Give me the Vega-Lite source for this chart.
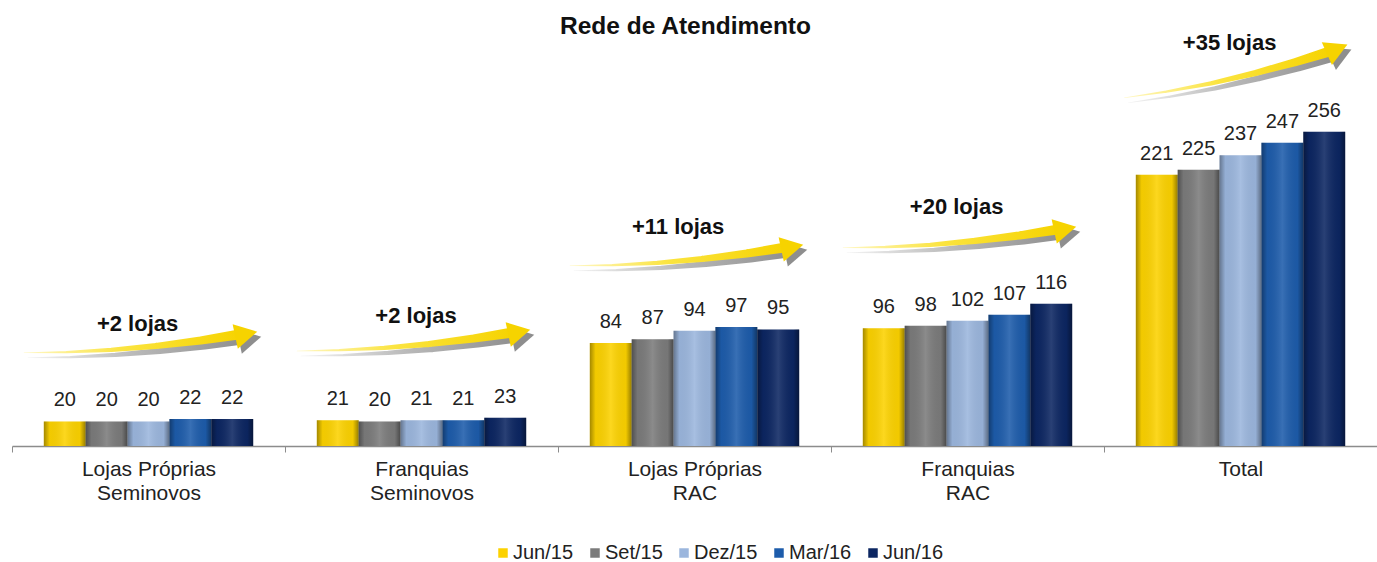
{
  "$schema": "https://vega.github.io/schema/vega-lite/v6.json",
  "width": 1365,
  "height": 405,
  "autosize": {"type": "none"},
  "padding": {"left": 12, "top": 41, "right": 0, "bottom": 116},
  "background": "white",
  "config": {"view": {"stroke": null}, "font": "Liberation Sans"},
  "title": {
    "text": "Rede de Atendimento",
    "fontSize": 24.5,
    "fontWeight": "bold",
    "font": "Liberation Sans",
    "color": "#111111",
    "anchor": "middle",
    "dx": -9,
    "offset": -7
  },
  "datasets": {
    "bars": [
      {"cat": "Lojas Próprias|Seminovos", "serie": "Jun/15", "value": 20},
      {"cat": "Lojas Próprias|Seminovos", "serie": "Set/15", "value": 20},
      {"cat": "Lojas Próprias|Seminovos", "serie": "Dez/15", "value": 20},
      {"cat": "Lojas Próprias|Seminovos", "serie": "Mar/16", "value": 22},
      {"cat": "Lojas Próprias|Seminovos", "serie": "Jun/16", "value": 22},
      {"cat": "Franquias|Seminovos", "serie": "Jun/15", "value": 21},
      {"cat": "Franquias|Seminovos", "serie": "Set/15", "value": 20},
      {"cat": "Franquias|Seminovos", "serie": "Dez/15", "value": 21},
      {"cat": "Franquias|Seminovos", "serie": "Mar/16", "value": 21},
      {"cat": "Franquias|Seminovos", "serie": "Jun/16", "value": 23},
      {"cat": "Lojas Próprias|RAC", "serie": "Jun/15", "value": 84},
      {"cat": "Lojas Próprias|RAC", "serie": "Set/15", "value": 87},
      {"cat": "Lojas Próprias|RAC", "serie": "Dez/15", "value": 94},
      {"cat": "Lojas Próprias|RAC", "serie": "Mar/16", "value": 97},
      {"cat": "Lojas Próprias|RAC", "serie": "Jun/16", "value": 95},
      {"cat": "Franquias|RAC", "serie": "Jun/15", "value": 96},
      {"cat": "Franquias|RAC", "serie": "Set/15", "value": 98},
      {"cat": "Franquias|RAC", "serie": "Dez/15", "value": 102},
      {"cat": "Franquias|RAC", "serie": "Mar/16", "value": 107},
      {"cat": "Franquias|RAC", "serie": "Jun/16", "value": 116},
      {"cat": "Total", "serie": "Jun/15", "value": 221},
      {"cat": "Total", "serie": "Set/15", "value": 225},
      {"cat": "Total", "serie": "Dez/15", "value": 237},
      {"cat": "Total", "serie": "Mar/16", "value": 247},
      {"cat": "Total", "serie": "Jun/16", "value": 256}
    ],
    "arrows": [
      {"grupo": "G1", "k": 1, "pos": 0.044, "y": 75.9},
      {"grupo": "G1", "k": 2, "pos": 0.2, "y": 76.5},
      {"grupo": "G1", "k": 3, "pos": 0.364, "y": 78.3},
      {"grupo": "G1", "k": 4, "pos": 0.527, "y": 81.5},
      {"grupo": "G1", "k": 5, "pos": 0.691, "y": 86.0},
      {"grupo": "G1", "k": 6, "pos": 0.822, "y": 90.5},
      {"grupo": "G2", "k": 1, "pos": 1.044, "y": 77.5},
      {"grupo": "G2", "k": 2, "pos": 1.2, "y": 78.1},
      {"grupo": "G2", "k": 3, "pos": 1.364, "y": 79.9},
      {"grupo": "G2", "k": 4, "pos": 1.527, "y": 83.1},
      {"grupo": "G2", "k": 5, "pos": 1.691, "y": 87.6},
      {"grupo": "G2", "k": 6, "pos": 1.822, "y": 92.1},
      {"grupo": "G3", "k": 1, "pos": 2.044, "y": 146.8},
      {"grupo": "G3", "k": 2, "pos": 2.2, "y": 147.4},
      {"grupo": "G3", "k": 3, "pos": 2.364, "y": 149.2},
      {"grupo": "G3", "k": 4, "pos": 2.527, "y": 152.4},
      {"grupo": "G3", "k": 5, "pos": 2.691, "y": 156.9},
      {"grupo": "G3", "k": 6, "pos": 2.822, "y": 161.4},
      {"grupo": "G4", "k": 1, "pos": 3.044, "y": 161.5},
      {"grupo": "G4", "k": 2, "pos": 3.2, "y": 162.1},
      {"grupo": "G4", "k": 3, "pos": 3.364, "y": 163.9},
      {"grupo": "G4", "k": 4, "pos": 3.527, "y": 167.1},
      {"grupo": "G4", "k": 5, "pos": 3.691, "y": 171.6},
      {"grupo": "G4", "k": 6, "pos": 3.822, "y": 176.1},
      {"grupo": "Total", "k": 1, "pos": 4.075, "y": 283.8},
      {"grupo": "Total", "k": 2, "pos": 4.228, "y": 288.7},
      {"grupo": "Total", "k": 3, "pos": 4.392, "y": 295.5},
      {"grupo": "Total", "k": 4, "pos": 4.555, "y": 303.9},
      {"grupo": "Total", "k": 5, "pos": 4.701, "y": 312.8},
      {"grupo": "Total", "k": 6, "pos": 4.817, "y": 320.8}
    ],
    "heads": [
      {"grupo": "G1", "pos": 0.858, "y": 91.2},
      {"grupo": "G2", "pos": 1.858, "y": 92.8},
      {"grupo": "G3", "pos": 2.858, "y": 162.1},
      {"grupo": "G4", "pos": 3.858, "y": 176.8},
      {"grupo": "Total", "pos": 4.854, "y": 323.4}
    ],
    "arrowLabels": [
      {"grupo": "G1", "pos": 0.46, "y": 99.5, "text": "+2 lojas"},
      {"grupo": "G2", "pos": 1.48, "y": 106, "text": "+2 lojas"},
      {"grupo": "G3", "pos": 2.44, "y": 178.6, "text": "+11 lojas"},
      {"grupo": "G4", "pos": 3.46, "y": 195, "text": "+20 lojas"},
      {"grupo": "Total", "pos": 4.46, "y": 328, "text": "+35 lojas"}
    ]
  },
  "layer": [
    {
      "data": {"name": "arrows"},
      "mark": {
        "type": "trail",
        "xOffset": 4,
        "yOffset": 5,
        "color": {"gradient": "linear", "x1": 0, "y1": 0, "x2": 1, "y2": 0,
          "stops": [{"offset": 0, "color": "#f4f4f4"}, {"offset": 0.5, "color": "#b8b8b8"}, {"offset": 1, "color": "#8e8e8e"}]}
      },
      "encoding": {
        "x": {"field": "pos", "type": "quantitative", "scale": {"domain": [0, 5], "nice": false, "zero": false}, "axis": null},
        "y": {"field": "y", "type": "quantitative", "scale": {"domain": [0, 330], "nice": false}, "axis": null},
        "detail": {"field": "grupo"},
        "order": {"field": "k", "type": "quantitative"},
        "size": {"field": "k", "type": "quantitative", "scale": {"domain": [1, 6], "range": [0.5, 10]}, "legend": null}
      }
    },
    {
      "data": {"name": "heads"},
      "mark": {"type": "point", "filled": true, "opacity": 1, "size": 625, "xOffset": 4, "yOffset": 5,
        "shape": "M -0.9 -1 L 0.9 0 L -0.9 1 Z", "color": "#8e8e8e"},
      "encoding": {
        "x": {"field": "pos", "type": "quantitative", "scale": {"domain": [0, 5], "nice": false, "zero": false}, "axis": null},
        "y": {"field": "y", "type": "quantitative", "scale": {"domain": [0, 330], "nice": false}, "axis": null},
        "angle": {"condition": {"test": "datum.grupo === 'Total'", "value": -24}, "value": -12}
      }
    },
    {
      "data": {"name": "arrows"},
      "mark": {
        "type": "trail",
        "color": {"gradient": "linear", "x1": 0, "y1": 0, "x2": 1, "y2": 0,
          "stops": [{"offset": 0, "color": "#fff8c8"}, {"offset": 0.45, "color": "#fbe440"}, {"offset": 1, "color": "#f6d300"}]}
      },
      "encoding": {
        "x": {"field": "pos", "type": "quantitative", "scale": {"domain": [0, 5], "nice": false, "zero": false}, "axis": null},
        "y": {"field": "y", "type": "quantitative", "scale": {"domain": [0, 330], "nice": false}, "axis": null},
        "detail": {"field": "grupo"},
        "order": {"field": "k", "type": "quantitative"},
        "size": {"field": "k", "type": "quantitative", "scale": {"domain": [1, 6], "range": [0.5, 10]}, "legend": null}
      }
    },
    {
      "data": {"name": "heads"},
      "mark": {"type": "point", "filled": true, "opacity": 1, "size": 625,
        "shape": "M -0.9 -1 L 0.9 0 L -0.9 1 Z", "color": "#f6d300"},
      "encoding": {
        "x": {"field": "pos", "type": "quantitative", "scale": {"domain": [0, 5], "nice": false, "zero": false}, "axis": null},
        "y": {"field": "y", "type": "quantitative", "scale": {"domain": [0, 330], "nice": false}, "axis": null},
        "angle": {"condition": {"test": "datum.grupo === 'Total'", "value": -24}, "value": -12}
      }
    },
    {
      "data": {"name": "arrowLabels"},
      "mark": {"type": "text", "fontSize": 22, "fontWeight": "bold", "font": "Liberation Sans", "color": "#111111", "align": "center", "baseline": "middle"},
      "encoding": {
        "x": {"field": "pos", "type": "quantitative", "scale": {"domain": [0, 5], "nice": false, "zero": false}, "axis": null},
        "y": {"field": "y", "type": "quantitative", "scale": {"domain": [0, 330], "nice": false}, "axis": null},
        "text": {"field": "text"}
      }
    },
    {
      "data": {"name": "bars"},
      "layer": [
        {
          "mark": {"type": "bar"},
          "encoding": {
            "color": {
              "field": "serie", "type": "nominal",
              "scale": {"domain": ["Jun/15", "Set/15", "Dez/15", "Mar/16", "Jun/16"],
                        "range": ["#fcd200", "#7b7b7b", "#9bb6dd", "#1d5cab", "#0c2662"]},
              "legend": {
                "orient": "none", "legendX": 481, "legendY": 502, "direction": "horizontal",
                "title": null, "symbolType": "square", "symbolSize": 90, "symbolStrokeWidth": 0,
                "labelFontSize": 20, "labelFont": "Liberation Sans", "labelColor": "#222222",
                "columnPadding": 11, "labelOffset": 0
              }
            }
          }
        },
        {
          "mark": {"type": "bar",
            "color": {"gradient": "linear", "x1": 0, "y1": 0, "x2": 1, "y2": 0,
              "stops": [{"offset": 0, "color": "rgba(0,0,0,0.35)"}, {"offset": 0.14, "color": "rgba(0,0,0,0.04)"},
                        {"offset": 0.5, "color": "rgba(255,255,255,0.12)"},
                        {"offset": 0.86, "color": "rgba(0,0,0,0.04)"}, {"offset": 1, "color": "rgba(0,0,0,0.4)"}]}}
        },
        {
          "mark": {"type": "text", "fontSize": 20, "font": "Liberation Sans", "color": "#222222", "baseline": "alphabetic", "dy": -15},
          "encoding": {"text": {"field": "value", "type": "quantitative"}}
        }
      ],
      "encoding": {
        "x": {
          "field": "cat", "type": "nominal",
          "sort": ["Lojas Próprias|Seminovos", "Franquias|Seminovos", "Lojas Próprias|RAC", "Franquias|RAC", "Total"],
          "scale": {"paddingInner": 0, "paddingOuter": 0},
          "axis": {
            "title": null, "labelExpr": "isValid(datum.value) ? split(datum.value, '|') : ''", "labelAngle": 0,
            "labelFontSize": 21, "labelFont": "Liberation Sans", "labelColor": "#222222",
            "labelLineHeight": 24, "labelPadding": 6, "tickBand": "extent", "tickSize": 6,
            "tickColor": "#8c8c8c", "domainColor": "#8c8c8c", "domainWidth": 1.5, "grid": false
          }
        },
        "xOffset": {
          "field": "serie", "type": "nominal",
          "scale": {"domain": ["Jun/15", "Set/15", "Dez/15", "Mar/16", "Jun/16"], "paddingInner": 0, "paddingOuter": 0.76}
        },
        "y": {"field": "value", "type": "quantitative", "scale": {"domain": [0, 330], "nice": false}, "axis": null}
      }
    }
  ],
  "resolve": {"scale": {"x": "independent"}}
}
